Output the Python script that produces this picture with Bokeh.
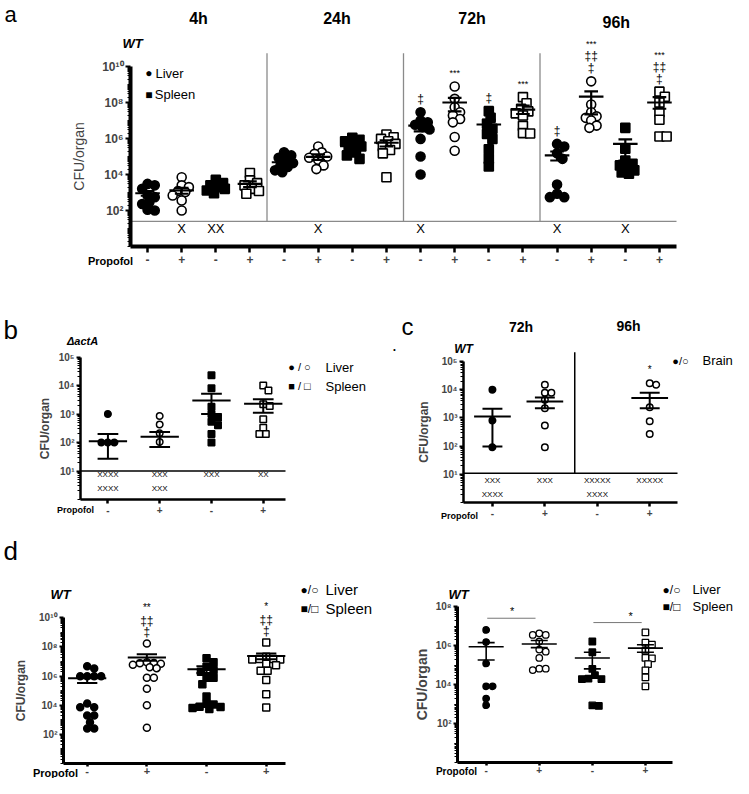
import numpy as np
from bokeh.plotting import figure
from bokeh.models import (Range1d, FixedTicker, CustomJSTickFormatter, Label,
                          ColumnDataSource)
from bokeh.layouts import column, row
from bokeh.embed import file_html
from bokeh.resources import INLINE

FONT = "Liberation Sans"

# ======================= DATA =======================
# ---- Panel a : WT, CFU per organ at 4h / 24h / 72h / 96h ----
a_times = ["4h", "24h", "72h", "96h"]
a_organ = ["Liver", "Liver", "Spleen", "Spleen"] * 4
a_propofol = ["-", "+", "-", "+"] * 4
a_values = [
    [2500, 3000, 1600, 550, 680, 290, 230, 110, 100],
    [7100, 2500, 2000, 1200, 1050, 680, 360, 100],
    [5000, 3300, 2500, 2000, 1600, 1300, 910],
    [12000, 4700, 3300, 2500, 1600, 1200, 850],
    [170000, 115000, 85000, 60000, 43000, 32000, 26000, 17000, 13500],
    [360000, 170000, 140000, 100000, 85000, 65000, 32000, 20000],
    [1.1e6, 8.5e5, 7.1e5, 5.0e5, 3.6e5, 2.7e5, 1.7e5, 1.15e5, 7.4e4],
    [1.66e6, 1.17e6, 9.5e5, 7.1e5, 5.0e5, 3.6e5, 2.3e5, 1.5e5, 7.1e3],
    [2.9e7, 1.0e7, 7.9e6, 5.8e6, 4.3e6, 3.2e6, 9.5e5, 1.0e5, 1.0e4],
    [7.8e8, 1.6e8, 5.5e7, 2.9e7, 1.9e7, 1.2e7, 7.9e6, 1.2e6, 2.1e5],
    [3.3e7, 1.4e7, 6.5e6, 3.5e6, 1.8e6, 9.5e5, 2.5e5, 7.4e4, 2.8e4],
    [2.0e8, 9.1e7, 4.5e7, 3.2e7, 2.5e7, 1.9e7, 5.0e6, 2.0e6, 1.9e6],
    [5.0e5, 3.6e5, 1.5e5, 7.4e4, 2.8e3, 850, 550, 550],
    [1.5e9, 7.8e7, 2.9e7, 1.7e7, 1.4e7, 1.0e7, 5.2e6, 3.9e6],
    [3.9e6, 2.7e5, 6.0e4, 3.9e4, 3.2e4, 2.3e4, 1.7e4, 1.3e4, 1.1e4],
    [4.0e8, 2.1e8, 1.0e8, 2.9e7, 1.1e7, 1.3e6, 1.3e6],
]
a_mean = [910, 1300, 1700, 3000, 4.8e4, 9.5e4, 3.7e5, 5.8e5,
          5.2e6, 1.0e8, 6.0e6, 4.0e7, 1.15e5, 2.1e8, 5.0e5, 1.0e8]
a_sem_hi = [1200, 1800, 2200, 4200, 6.2e4, 1.3e5, 5.0e5, 8.0e5,
            8.3e6, 1.8e8, 1.1e7, 6.8e7, 1.9e5, 4.1e8, 9.0e5, 2.0e8]
a_sem_lo = [660, 850, 1300, 2000, 3.6e4, 6.5e4, 2.5e5, 3.6e5,
            2.5e6, 3.2e7, 2.8e6, 2.3e7, 6.0e4, 2.2e7, 6.0e4, 4.5e7]
a_lod = 25
a_deaths = ["", "X", "XX", "", "", "X", "", "", "X", "", "", "", "X", "", "X", ""]
a_signif = [[], [], [], [], [], [], [], [], ["‡"], ["***"], ["‡"], ["***"],
            ["‡"], ["‡", "‡‡", "***"], [], ["‡", "‡‡", "***"]]

# ---- Panel b : ΔactA ----
b_organ = ["Liver", "Liver", "Spleen", "Spleen"]
b_propofol = ["-", "+", "-", "+"]
b_values = [
    [1000, 100, 100, 100],
    [850, 430, 210, 105],
    [23000, 8000, 1800, 1000, 740, 540, 400, 200, 100],
    [10000, 6700, 2200, 1900, 650, 330, 200, 200],
]
b_mean = [110, 160, 3000, 2300]
b_sem_hi = [200, 235, 5100, 3300]
b_sem_lo = [27, 70, 1000, 1100]
b_lod = 10
b_deaths = [["XXXX", "XXXX"], ["XXX", "XXX"], ["XXX", ""], ["XX", ""]]

# ---- Panel c : WT brain, 72h / 96h ----
c_times = ["72h", "96h"]
c_organ = ["Brain"] * 4
c_propofol = ["-", "+", "-", "+"]
c_values = [
    [10000, 810, 91],
    [15000, 7800, 7800, 4400, 2200, 540, 91],
    [],
    [17000, 15000, 2400, 760, 270],
]
c_mean = [1120, 3800, None, 5100]
c_sem_hi = [2100, 5300, None, 7800]
c_sem_lo = [97, 2200, None, 2200]
c_lod = 11
c_deaths = [["XXX", "XXXX"], ["XXX", ""], ["XXXXX", "XXXX"], ["XXXXX", ""]]
c_signif = [[], [], [], ["*"]]

# ---- Panel d (left) ----
dl_organ = ["Liver", "Liver", "Spleen", "Spleen"]
dl_propofol = ["-", "+", "-", "+"]
dl_values = [
    [3.3e6, 4.8e6, 9.8e5, 9.8e5, 9.8e5, 9.8e5, 1.3e4, 7.2e3, 7.2e3, 2.0e3, 2.0e3, 690, 250, 250],
    [1.7e8, 9e6, 8e6, 7.5e6, 7e6, 6e6, 4e6, 3.5e6, 7.6e5, 7.6e5, 1.35e5, 9.8e3, 280],
    [1.7e7, 8.9e6, 4.3e6, 2.6e6, 2.0e6, 7.6e5, 7.6e5, 2.8e5, 3.9e4, 1.26e4, 7.6e3, 5.5e3, 6.5e3, 1.1e4, 8e3],
    [2.0e8, 2.1e7, 1.5e7, 1.5e7, 1.4e7, 1.4e7, 6.9e6, 5.5e6, 2.3e6, 2.3e6, 5.4e5, 5.6e4, 7.1e3],
]
dl_mean = [7e5, 1.9e7, 2.9e6, 2.4e7]
dl_sem_hi = [1.1e6, 3.1e7, 4.8e6, 3.5e7]
dl_sem_lo = [3.3e5, 1.15e7, 1.6e6, 1.45e7]
dl_signif = [[], ["‡", "‡‡", "**"], [], ["‡", "‡‡", "*"]]

# ---- Panel d (right) ----
dr_organ = ["Liver", "Liver", "Spleen", "Spleen"]
dr_propofol = ["-", "+", "-", "+"]
dr_values = [
    [6.3e6, 1.5e6, 1.2e5, 8.1e3, 8.1e3, 1.9e3, 870],
    [4.2e6, 3.5e6, 3.5e6, 1.6e6, 6.2e5, 4.8e5, 2.3e5, 6.5e4, 5.5e4, 6.5e4],
    [1.6e6, 4.5e5, 6.3e4, 3.0e4, 1.9e4, 1.9e4, 2.0e4, 800, 850],
    [4.7e6, 1.4e6, 1.1e6, 5.4e5, 2.2e5, 2.3e5, 1.1e5, 5.3e4, 2.3e4, 8.1e3],
]
dr_mean = [8.7e5, 1.2e6, 2.3e5, 7.3e5]
dr_sem_hi = [1.4e6, 1.8e6, 4.5e5, 1.1e6]
dr_sem_lo = [1.8e5, 7.8e5, 6.3e4, 4.5e5]
dr_pairs = [(1, 2, "*"), (3, 4, "*")]
dr_pair_level = [2.5e7, 1.5e7]

# ======================= HELPERS =======================
EXP_JS = """
const sup = ["\u2070","\u00b9","\u00b2","\u00b3","\u2074","\u2075","\u2076","\u2077","\u2078","\u2079"];
const e = Math.round(Math.log(tick) / Math.LN10);
let s = "";
for (const c of String(e)) { s += sup[parseInt(c)]; }
return "10" + s;
"""


def swarm_offsets(vals, ppd, ppu, size, gap, maxw):
    """Column-scatter layout: horizontal pixel offsets so markers overlap little."""
    ypx = np.log10(np.asarray(vals, float)) * ppd
    order = np.argsort(-ypx, kind="stable")
    d = size * gap
    lim = size * maxw
    step = 0.2 * size
    cands = [0.0]
    j = 1
    while j * step <= lim:
        cands += [j * step, -j * step]
        j += 1
    placed, offs = [], np.zeros(len(vals))
    for i in order:
        y = ypx[i]
        best, best_md = 0.0, -1.0
        for c in cands:
            md = min((((c - px) ** 2 + (y - py) ** 2) ** 0.5 for px, py in placed),
                     default=1e9)
            if md >= d:
                best = c
                break
            if md > best_md:
                best, best_md = c, md
        placed.append((best, y))
        offs[i] = best / ppu
    return offs


class Panel:
    """Figure covering page box (ox, oy, W, H); its frame spans the whole canvas.
    Axes sit at fixed data locations: x0/x1 at page x L/R, 10^0 at page y B."""

    def __init__(self, ox, oy, W, H, L, R, B, x0, x1, ppd):
        self.L, self.R, self.B = L, R, B
        self.x0, self.x1, self.ppd = x0, x1, ppd
        self.ppu = (R - L) / (x1 - x0)
        p = figure(width=W, height=H,
                   x_range=Range1d(self.X(ox), self.X(ox + W)),
                   y_range=Range1d(self.Y(oy + H), self.Y(oy)),
                   y_axis_type="log", output_backend="svg", toolbar_location=None,
                   min_border=0)
        p.outline_line_color = None
        p.xgrid.visible = False
        p.ygrid.visible = False
        self.p = p

    def X(self, px):
        return self.x0 + (px - self.L) / self.ppu

    def Y(self, py):
        return 10 ** ((self.B - py) / self.ppd)

    def label_d(self, x, y, s, size, style="normal", align="center", yoff=0):
        self.p.add_layout(Label(x=x, y=y, y_offset=yoff, text=s, text_font=FONT,
                                text_font_size=f"{size}px", text_font_style=style,
                                text_align=align, text_baseline="middle",
                                text_color="black"))

    def label(self, px, py, s, size, style="normal", align="center"):
        self.label_d(self.X(px), self.Y(py), s, size, style, align)

    def axes(self, majors, ybound, signs, axis_w, ytick_fs, xtick_fs, ylab_fs, ylab_style,
             ylab_standoff, ytick_out=5, xtick_out=5, x_standoff=2):
        p = self.p
        top_exp = int(round(np.log10(ybound)))
        minors = [k * 10.0 ** n for n in range(0, top_exp) for k in range(1, 10)]
        minors = [m for m in minors if not any(abs(m - M) / M < 1e-9 for M in majors)]
        ya = p.yaxis[0]
        ya.fixed_location = self.x0
        ya.ticker = FixedTicker(ticks=majors, minor_ticks=minors)
        ya.formatter = CustomJSTickFormatter(code=EXP_JS)
        ya.bounds = (1, ybound)
        ya.axis_line_width = axis_w
        ya.major_tick_line_width = 2
        ya.major_tick_out = ytick_out
        ya.major_tick_in = 0
        ya.minor_tick_line_width = 1
        ya.minor_tick_out = 3
        ya.minor_tick_in = 0
        ya.major_label_standoff = 2
        ya.major_label_text_font = FONT
        ya.major_label_text_font_size = f"{ytick_fs}px"
        ya.major_label_text_font_style = "bold"
        ya.axis_label = "CFU/organ"
        ya.axis_label_text_font = FONT
        ya.axis_label_text_font_size = f"{ylab_fs}px"
        ya.axis_label_text_font_style = ylab_style
        ya.axis_label_standoff = ylab_standoff
        xa = p.xaxis[0]
        xa.fixed_location = 1.0
        xa.bounds = (self.x0, self.x1)
        xa.ticker = FixedTicker(ticks=list(range(1, len(signs) + 1)))
        xa.formatter = CustomJSTickFormatter(args=dict(signs=signs),
                                             code="return signs[Math.round(tick) - 1];")
        xa.axis_line_width = axis_w
        xa.major_tick_line_width = 2.5
        xa.major_tick_out = xtick_out
        xa.major_tick_in = 0
        xa.minor_tick_line_color = None
        xa.major_label_standoff = x_standoff
        xa.major_label_text_font = FONT
        xa.major_label_text_font_size = f"{xtick_fs}px"
        xa.major_label_text_font_style = "bold"

    def groups(self, values, mean, hi, lo, organ, propofol, size, lw, mean_hw, cap_hw,
               bar_lw, gap=1.0, maxw=2.1):
        xs, ys, mk, fc = [], [], [], []
        for i, vals in enumerate(values):
            if not vals:
                continue
            offs = swarm_offsets(vals, self.ppd, self.ppu, size, gap, maxw)
            for v, o in zip(vals, offs):
                xs.append(i + 1 + o)
                ys.append(v)
                mk.append("circle" if organ[i] in ("Liver", "Brain") else "square")
                fc.append("black" if propofol[i] == "-" else "white")
        src = ColumnDataSource(dict(x=xs, y=ys, marker=mk, fill=fc))
        self.p.scatter("x", "y", source=src, marker="marker", size=size, fill_color="fill",
                       line_color="black", line_width=lw)
        sx0, sx1, sy0, sy1 = [], [], [], []

        def seg(a, b, c, d):
            sx0.append(a); sx1.append(b); sy0.append(c); sy1.append(d)

        for i in range(len(values)):
            if mean[i] is None:
                continue
            g = i + 1
            seg(g - mean_hw, g + mean_hw, mean[i], mean[i])
            seg(g, g, lo[i], hi[i])
            seg(g - cap_hw, g + cap_hw, hi[i], hi[i])
            seg(g - cap_hw, g + cap_hw, lo[i], lo[i])
        self.p.segment(x0="x0", x1="x1", y0="y0", y1="y1",
                       source=ColumnDataSource(dict(x0=sx0, x1=sx1, y0=sy0, y1=sy1)),
                       line_color="black", line_width=bar_lw)

    def signif(self, values, marks, offsets, sizes):
        for i, ms in enumerate(marks):
            if not ms:
                continue
            top = max(values[i])
            for k, m in enumerate(ms):
                fs = sizes[0] if "*" in m else sizes[1]
                self.label_d(i + 1, top, m, fs, yoff=offsets[k])

    def hline(self, y, color, width, xa=None, xb=None):
        xa = self.x0 if xa is None else xa
        xb = self.x1 if xb is None else xb
        self.p.segment(x0=[xa], x1=[xb], y0=[y], y1=[y], line_color=color, line_width=width)

    def vline(self, x, ya, yb, color, width):
        self.p.segment(x0=[x], x1=[x], y0=[ya], y1=[yb], line_color=color, line_width=width)


# ======================= PANEL a =======================
pa = Panel(0, 0, 733, 278, 130, 676, 246, 0.5, 16.5, 18.0)
pa.axes([1e2, 1e4, 1e6, 1e8, 1e10], 1e10, a_propofol, axis_w=4, ytick_fs=12, xtick_fs=12,
        ylab_fs=14, ylab_style="normal", ylab_standoff=12, ytick_out=5, xtick_out=6)
pa.hline(a_lod, "#8a8a8a", 1.2)
for xb in (4.5, 8.5, 12.5):
    pa.vline(xb, a_lod, pa.Y(52.7), "#8a8a8a", 1.3)
pa.groups(a_values, a_mean, a_sem_hi, a_sem_lo, a_organ, a_propofol, size=9, lw=1.6,
          mean_hw=0.36, cap_hw=0.2, bar_lw=2.2, gap=0.75, maxw=1.1)
pa.signif(a_values, a_signif, [13, 25, 37], (9, 12))
for i, s in enumerate(a_deaths):
    if s:
        pa.label_d(i + 1, pa.Y(227.7), s, 13)
for t, px, py in zip(a_times, (198, 336.5, 471.6, 615.8), (18.3, 18.3, 18.3, 21.7)):
    pa.label(px, py, t, 16, "bold")
pa.label(4, 14, "a", 22, align="left")
pa.label(132, 43.3, "WT", 13, "bold italic")
pa.label(148.3, 72.7, "●", 12)
pa.label(155, 72.7, "Liver", 13, align="left")
pa.label(148.3, 94, "■", 12)
pa.label(154.3, 94, "Spleen", 13, align="left")
pa.label(110, 260, "Propofol", 11, "bold")

# ======================= PANEL b =======================
pb = Panel(0, 278, 372, 249, 80, 285, 499, 0.47, 4.43, 28.5)
pb.axes([1e1, 1e2, 1e3, 1e4, 1e5], 1e5, b_propofol, axis_w=2.5, ytick_fs=10, xtick_fs=10,
        ylab_fs=12, ylab_style="bold", ylab_standoff=3, ytick_out=4, xtick_out=4)
pb.hline(b_lod, "black", 1.5)
pb.groups(b_values, b_mean, b_sem_hi, b_sem_lo, b_organ, b_propofol, size=6.5, lw=1.5,
          mean_hw=0.37, cap_hw=0.2, bar_lw=2)
for i, rows in enumerate(b_deaths):
    for r, py in zip(rows, (474, 488)):
        if r:
            pb.label_d(i + 1, pb.Y(py), r, 8)
pb.label(3, 329, "b", 26, align="left")
pb.label(82, 340, "ΔactA", 11, "bold italic")
pb.label(299, 366.7, "● / ○", 11)
pb.label(325, 366.7, "Liver", 13, align="left")
pb.label(299, 385.7, "■ / □", 11)
pb.label(325, 385.7, "Spleen", 13, align="left")
pb.label(75, 509, "Propofol", 9, "bold")

# ======================= PANEL c =======================
pc = Panel(372, 278, 361, 249, 463, 677, 502, 0.448, 4.53, 28.2)
pc.axes([1e1, 1e2, 1e3, 1e4, 1e5], 1e5, c_propofol, axis_w=2.5, ytick_fs=10, xtick_fs=10,
        ylab_fs=12, ylab_style="bold", ylab_standoff=7, ytick_out=4, xtick_out=4)
pc.hline(c_lod, "black", 1.5)
pc.vline(2.57, c_lod, pc.Y(351.7), "black", 1.5)
pc.groups(c_values, c_mean, c_sem_hi, c_sem_lo, c_organ, c_propofol, size=6.5, lw=1.5,
          mean_hw=0.35, cap_hw=0.19, bar_lw=2)
pc.signif(c_values, c_signif, [14], (10, 12))
for i, rows in enumerate(c_deaths):
    for r, py in zip(rows, (480, 494)):
        if r:
            pc.label_d(i + 1, pc.Y(py), r, 8)
pc.label(401, 326, "c", 24, align="left")
pc.label(394, 346, ".", 12, "bold")
pc.label(520.5, 326.7, c_times[0], 14, "bold")
pc.label(628, 325, c_times[1], 14, "bold")
pc.label(463, 348, "WT", 12, "bold italic")
pc.label(680, 360, "●/○", 11)
pc.label(702, 360, "Brain", 13, align="left")
pc.label(459, 515, "Propofol", 9, "bold")

# ======================= PANEL d (left) =======================
pdl = Panel(0, 527, 390, 251, 63, 285, 763, 0.603, 4.323, 14.57)
pdl.axes([1e2, 1e4, 1e6, 1e8, 1e10], 1e10, dl_propofol, axis_w=3, ytick_fs=10, xtick_fs=11,
         ylab_fs=12, ylab_style="bold", ylab_standoff=8, ytick_out=4, xtick_out=3, x_standoff=0)
pdl.groups(dl_values, dl_mean, dl_sem_hi, dl_sem_lo, dl_organ, dl_propofol, size=7, lw=1.5,
           mean_hw=0.32, cap_hw=0.17, bar_lw=2, maxw=2.6)
pdl.signif(dl_values, dl_signif, [12, 23, 36], (10, 12))
pdl.label(3, 550, "d", 26, align="left")
pdl.label(60, 594, "WT", 13, "bold italic")
pdl.label(309, 589, "●/○", 12)
pdl.label(325, 589, "Liver", 15, align="left")
pdl.label(309, 608, "■/□", 12)
pdl.label(325, 608, "Spleen", 15, align="left")
pdl.label(55, 772, "Propofol", 11, "bold")

# ======================= PANEL d (right) =======================
pdr = Panel(390, 527, 343, 251, 457, 672, 762, 0.46, 4.51, 19.5)
pdr.axes([1e2, 1e4, 1e6, 1e8], 1e8, dr_propofol, axis_w=3, ytick_fs=10, xtick_fs=10,
         ylab_fs=14, ylab_style="bold", ylab_standoff=2, ytick_out=4, xtick_out=3, x_standoff=0)
pdr.groups(dr_values, dr_mean, dr_sem_hi, dr_sem_lo, dr_organ, dr_propofol, size=6.5, lw=1.3,
           mean_hw=0.33, cap_hw=0.16, bar_lw=1.6)
for (g1, g2, s), lvl, sx in zip(dr_pairs, dr_pair_level, (1.49, 3.72)):
    pdr.hline(lvl, "#777777", 1, g1 + 0.02, g2 - 0.07)
    pdr.label_d(sx, lvl, s, 11, yoff=7)
pdr.label(458, 594, "WT", 13, "bold italic")
pdr.label(671, 589, "●/○", 12)
pdr.label(692, 589, "Liver", 13, align="left")
pdr.label(671, 606, "■/□", 12)
pdr.label(692, 606, "Spleen", 13, align="left")
pdr.label(456, 771, "Propofol", 10, "bold")

layout = column(pa.p, row(pb.p, pc.p), row(pdl.p, pdr.p))
with open("out.html", "w", encoding="utf-8") as f:
    f.write(file_html(layout, INLINE, title="CFU per organ"))
